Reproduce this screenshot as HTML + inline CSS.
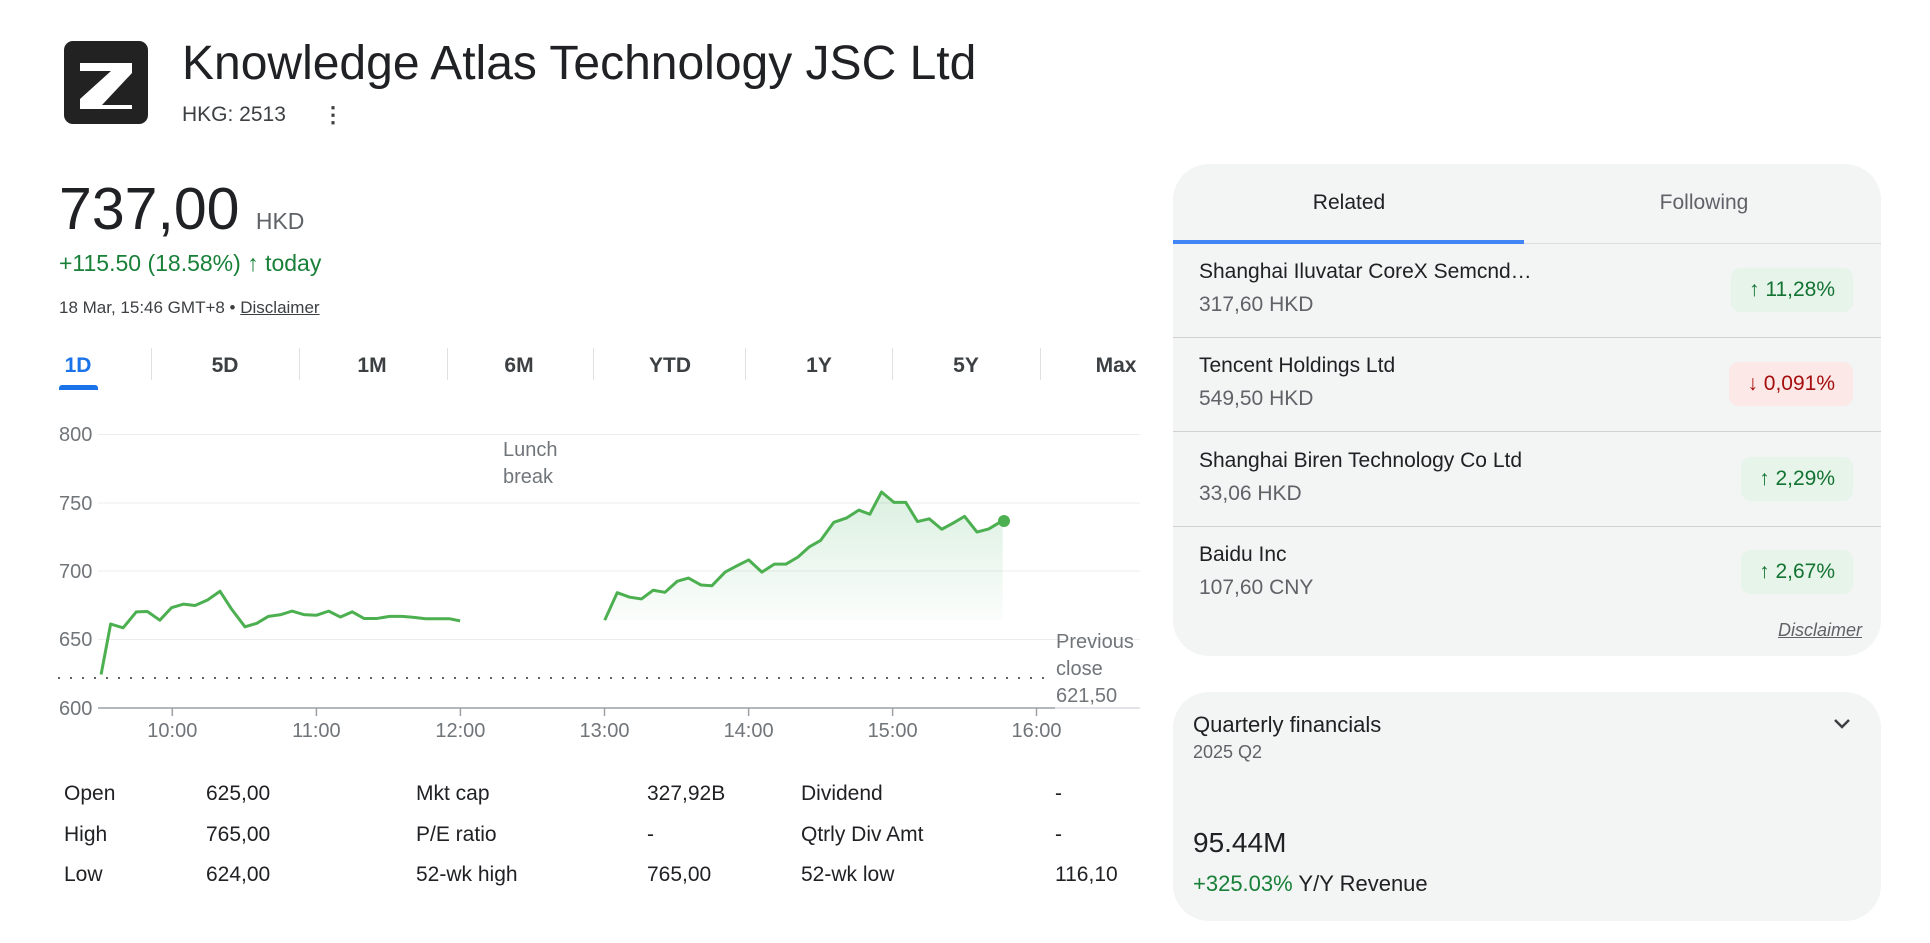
<!DOCTYPE html>
<html><head><meta charset="utf-8"><style>
body{margin:0;width:1930px;height:943px;background:#fff;font-family:"Liberation Sans",sans-serif;color:#202124;position:relative;overflow:hidden}
.a{position:absolute;white-space:nowrap}
.g{color:#70757a}
.tab{position:absolute;top:352px;font-size:21px;color:#3c4043;transform:translateX(-50%);line-height:28px;font-weight:600}
.sep{position:absolute;top:348px;width:1px;height:32px;background:#e0e0e0}
.st{position:absolute;font-size:21px;line-height:28px;color:#202124}
.badge{position:absolute;right:77px;height:44px;border-radius:10px;font-size:21px;line-height:44px;padding:0 18px;box-sizing:border-box}
.up{background:#e6f4ea;color:#137333}
.dn{background:#fce8e6;color:#a50e0e}
.nm{position:absolute;left:1199px;font-size:21px;line-height:28px;color:#202124}
.pr{position:absolute;left:1199px;font-size:21px;line-height:28px;color:#5f6368}
</style></head><body>
<div class="a" style="left:64px;top:41px;width:84px;height:83px;background:#222;border-radius:9px"></div>
<svg class="a" style="left:64px;top:41px" width="84" height="83"><polygon points="16,22 68,22 68,32 38,64 68,64 68,68 16,68 16,58 47,30 16,30" fill="#fff"/></svg>
<div class="a" style="left:182px;top:35px;font-size:48px;line-height:58px;color:#202124">Knowledge Atlas Technology JSC Ltd</div>
<div class="a" style="left:182px;top:102px;font-size:21px;line-height:26px;color:#3c4043">HKG: 2513</div>
<div class="a" style="left:322px;top:102px;font-size:22px;line-height:26px;color:#3c4043;font-weight:bold">⋮</div>
<div class="a" style="left:59px;top:174px;font-size:59px;line-height:70px">737,00 <span style="font-size:23px;color:#5f6368">HKD</span></div>
<div class="a" style="left:59px;top:249px;font-size:23px;line-height:28px;color:#188038">+115.50 (18.58%) ↑ today</div>
<div class="a" style="left:59px;top:297px;font-size:17px;line-height:22px;color:#3c4043">18 Mar, 15:46 GMT+8 • <span style="text-decoration:underline">Disclaimer</span></div>
<div class="tab" style="left:78px;color:#1a73e8">1D</div>
<div class="a" style="left:59px;top:385px;width:39px;height:5px;background:#1a73e8;border-radius:3px 3px 0 0"></div>
<div class="tab" style="left:225px">5D</div><div class="tab" style="left:372px">1M</div><div class="tab" style="left:519px">6M</div><div class="tab" style="left:670px">YTD</div><div class="tab" style="left:819px">1Y</div><div class="tab" style="left:966px">5Y</div><div class="tab" style="left:1116px">Max</div>
<div class="sep" style="left:151px"></div><div class="sep" style="left:299px"></div><div class="sep" style="left:447px"></div><div class="sep" style="left:593px"></div><div class="sep" style="left:745px"></div><div class="sep" style="left:892px"></div><div class="sep" style="left:1040px"></div>
<svg class="a" style="left:0;top:0" width="1150" height="943">
<defs><linearGradient id="gr" x1="0" y1="0" x2="0" y2="1"><stop offset="0" stop-color="#34a853" stop-opacity="0.18"/><stop offset="1" stop-color="#34a853" stop-opacity="0.02"/></linearGradient></defs>
<g stroke="#ededed" stroke-width="1"><line x1="98" y1="434.5" x2="1140" y2="434.5"/><line x1="98" y1="503" x2="1140" y2="503"/><line x1="98" y1="571" x2="1140" y2="571"/><line x1="98" y1="639.5" x2="1140" y2="639.5"/></g>
<line x1="98" y1="708" x2="1055" y2="708" stroke="#9aa0a6" stroke-width="1.5"/>
<line x1="1055" y1="708" x2="1140" y2="708" stroke="#dadce0" stroke-width="1.5"/>
<g stroke="#9aa0a6" stroke-width="1.5"><line x1="172.3" y1="708" x2="172.3" y2="716"/><line x1="316.4" y1="708" x2="316.4" y2="716"/><line x1="460.4" y1="708" x2="460.4" y2="716"/><line x1="604.5" y1="708" x2="604.5" y2="716"/><line x1="748.6" y1="708" x2="748.6" y2="716"/><line x1="892.6" y1="708" x2="892.6" y2="716"/><line x1="1036.5" y1="708" x2="1036.5" y2="716"/></g>
<line x1="58" y1="678" x2="1045" y2="678" stroke="#5f6368" stroke-width="2" stroke-dasharray="2 10"/>
<g transform="translate(-1.7,398.6) scale(0.7342,0.3484)">
<path d="M826,636 L843,557 860,570 876,575 892,550 908,556 925,524 940,515 957,535 972,537 990,498 1006,480 1022,463 1040,498 1057,475 1073,475 1089,455 1105,425 1120,407 1138,355 1155,343 1172,320 1187,332 1203,268 1220,298 1236,298 1252,353 1268,345 1285,375 1300,358 1316,338 1333,383 1349,374 1368,350 L1368,636 Z" fill="url(#gr)"/>
<path d="M140,792 L153,647 170,658 188,612 203,611 220,636 236,600 252,590 268,594 285,578 302,553 318,605 336,655 352,645 368,625 385,620 400,610 416,620 433,622 450,610 466,627 482,612 498,631 516,631 533,625 550,625 566,628 582,632 598,632 615,632 629,638" fill="none" stroke="#4caf50" stroke-width="3" vector-effect="non-scaling-stroke" stroke-linejoin="round"/>
<path d="M826,636 L843,557 860,570 876,575 892,550 908,556 925,524 940,515 957,535 972,537 990,498 1006,480 1022,463 1040,498 1057,475 1073,475 1089,455 1105,425 1120,407 1138,355 1155,343 1172,320 1187,332 1203,268 1220,298 1236,298 1252,353 1268,345 1285,375 1300,358 1316,338 1333,383 1349,374 1368,350" fill="none" stroke="#4caf50" stroke-width="3" vector-effect="non-scaling-stroke" stroke-linejoin="round"/>
</g>
<circle cx="1004" cy="521" r="6" fill="#4caf50"/>
<g font-family="Liberation Sans" font-size="20" fill="#70757a">
<text x="59" y="441">800</text><text x="59" y="510">750</text><text x="59" y="578">700</text><text x="59" y="646">650</text><text x="59" y="715">600</text>
<g text-anchor="middle"><text x="172.3" y="737">10:00</text><text x="316.4" y="737">11:00</text><text x="460.4" y="737">12:00</text><text x="604.5" y="737">13:00</text><text x="748.6" y="737">14:00</text><text x="892.6" y="737">15:00</text><text x="1036.5" y="737">16:00</text></g>
<text x="503" y="456">Lunch</text><text x="503" y="483">break</text>
<text x="1056" y="648">Previous</text><text x="1056" y="675">close</text><text x="1056" y="702">621,50</text>
</g>
</svg>
<div class="st" style="left:64px;top:780px">Open</div><div class="st" style="left:206px;top:780px">625,00</div><div class="st" style="left:416px;top:780px">Mkt cap</div><div class="st" style="left:647px;top:780px">327,92B</div><div class="st" style="left:801px;top:780px">Dividend</div><div class="st" style="left:1055px;top:780px">-</div>
<div class="st" style="left:64px;top:821px">High</div><div class="st" style="left:206px;top:821px">765,00</div><div class="st" style="left:416px;top:821px">P/E ratio</div><div class="st" style="left:647px;top:821px">-</div><div class="st" style="left:801px;top:821px">Qtrly Div Amt</div><div class="st" style="left:1055px;top:821px">-</div>
<div class="st" style="left:64px;top:861px">Low</div><div class="st" style="left:206px;top:861px">624,00</div><div class="st" style="left:416px;top:861px">52-wk high</div><div class="st" style="left:647px;top:861px">765,00</div><div class="st" style="left:801px;top:861px">52-wk low</div><div class="st" style="left:1055px;top:861px">116,10</div>

<div class="a" style="left:1173px;top:164px;width:708px;height:492px;background:#f3f4f4;border-radius:36px"></div>
<div class="a" style="left:1349px;top:189px;font-size:21px;line-height:28px;transform:translateX(-50%)">Related</div>
<div class="a" style="left:1704px;top:189px;font-size:21px;line-height:28px;color:#5f6368;transform:translateX(-50%)">Following</div>
<div class="a" style="left:1173px;top:243px;width:708px;height:1px;background:#dadce0"></div>
<div class="a" style="left:1173px;top:240px;width:351px;height:4px;background:#4285f4"></div>
<div class="a" style="left:1173px;top:337px;width:708px;height:1px;background:#d0d0d0"></div>
<div class="a" style="left:1173px;top:431px;width:708px;height:1px;background:#d0d0d0"></div>
<div class="a" style="left:1173px;top:526px;width:708px;height:1px;background:#d0d0d0"></div>
<div class="nm" style="top:258px">Shanghai Iluvatar CoreX Semcnd…</div><div class="pr" style="top:291px">317,60 HKD</div>
<div class="nm" style="top:352px">Tencent Holdings Ltd</div><div class="pr" style="top:385px">549,50 HKD</div>
<div class="nm" style="top:447px">Shanghai Biren Technology Co Ltd</div><div class="pr" style="top:480px">33,06 HKD</div>
<div class="nm" style="top:541px">Baidu Inc</div><div class="pr" style="top:574px">107,60 CNY</div>
<div class="badge up" style="top:268px">↑ 11,28%</div>
<div class="badge dn" style="top:362px">↓ 0,091%</div>
<div class="badge up" style="top:457px">↑ 2,29%</div>
<div class="badge up" style="top:550px">↑ 2,67%</div>
<div class="a" style="right:68px;top:619px;font-size:18px;line-height:22px;color:#5f6368;font-style:italic;text-decoration:underline">Disclaimer</div>

<div class="a" style="left:1173px;top:692px;width:708px;height:229px;background:#f3f4f4;border-radius:36px"></div>
<div class="a" style="left:1193px;top:711px;font-size:22px;line-height:28px">Quarterly financials</div>
<div class="a" style="left:1193px;top:741px;font-size:18px;line-height:22px;color:#5f6368">2025 Q2</div>
<svg class="a" style="left:1832px;top:717px" width="20" height="14"><polyline points="3,3 10,10 17,3" fill="none" stroke="#3c4043" stroke-width="2.5"/></svg>
<div class="a" style="left:1193px;top:826px;font-size:28px;line-height:34px">95.44M</div>
<div class="a" style="left:1193px;top:870px;font-size:22px;line-height:28px"><span style="color:#188038">+325.03%</span> Y/Y Revenue</div>
</body></html>
